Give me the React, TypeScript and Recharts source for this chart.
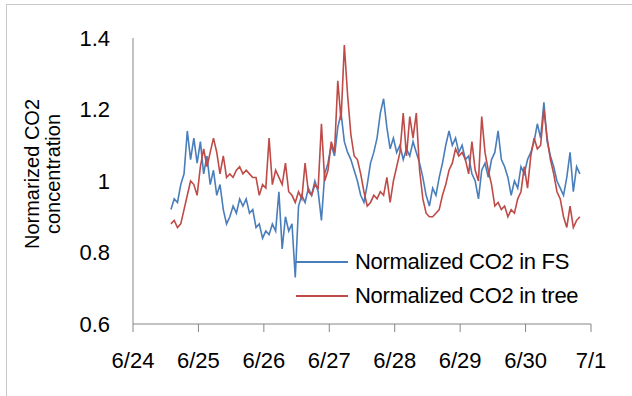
import { LineChart, Line, XAxis, YAxis } from "recharts";

// time axis: days after 6/24, one sample every STEP_DAY
const START_DAY = 0.58;
const STEP_DAY = 0.05;
const DAY_TICKS = [0, 1, 2, 3, 4, 5, 6, 7];
const DAY_LABELS = ["6/24", "6/25", "6/26", "6/27", "6/28", "6/29", "6/30", "7/1"];
const Y_TICKS = [0.6, 0.8, 1, 1.2, 1.4];

const CO2_FS = [
  0.92, 0.95, 0.94, 0.99, 1.02, 1.14, 1.06, 1.12, 1.05, 1.11,
  1.02, 1.07, 0.99, 1.03, 0.96, 0.99, 0.92, 0.88, 0.9, 0.93,
  0.91, 0.95, 0.93, 0.95, 0.91, 0.92, 0.87, 0.88, 0.84, 0.86,
  0.85, 0.88, 0.86, 0.97, 0.81, 0.9, 0.86, 0.88, 0.73, 0.93,
  0.96, 0.94, 0.98, 0.96, 1.0, 0.97, 0.89, 1.02, 1.05, 1.1,
  1.07, 1.15, 1.19, 1.11, 1.08, 1.06, 1.03, 1.0, 0.96, 0.94,
  0.99, 1.05, 1.08, 1.12, 1.19, 1.23, 1.15, 1.09, 1.12, 1.08,
  1.1, 1.06, 1.09, 1.07, 1.11, 1.08, 1.05, 1.01, 0.96, 0.93,
  0.98, 0.96, 1.01, 1.05, 1.1, 1.14, 1.1, 1.12, 1.08, 1.1,
  1.06, 1.07, 1.02, 1.0, 0.95, 1.03, 1.05, 1.01, 1.06, 1.08,
  1.14, 1.06, 1.04, 1.01, 0.96, 1.0, 0.98, 1.04, 1.02, 1.06,
  1.08, 1.11, 1.16, 1.12, 1.22, 1.11, 1.07, 1.04, 1.0, 0.98,
  0.96, 1.01, 1.08, 0.97, 1.04, 1.02,
];

const CO2_TREE = [
  0.88, 0.89, 0.87, 0.88, 0.92, 0.96, 1.0, 0.99, 0.96, 1.04,
  1.09, 1.04, 1.08, 1.12, 1.08, 1.02, 1.07, 1.01, 1.02, 1.01,
  1.03, 1.04, 1.02, 1.03, 1.02, 1.01, 1.01, 0.96, 0.99, 0.98,
  1.12, 0.99, 1.03, 1.01, 0.99, 1.05, 0.97, 0.96, 0.94, 0.97,
  0.95, 1.05, 0.97, 0.96, 0.99, 0.98, 1.16, 1.0, 1.03, 1.11,
  1.08, 1.28, 1.17, 1.38, 1.24, 1.13, 1.07, 1.06, 1.02, 0.97,
  0.93, 0.94, 0.96, 0.95, 0.97, 0.96, 1.01, 0.94, 1.0, 1.04,
  1.08, 1.19, 1.07, 1.18, 1.12, 1.19, 1.03, 0.95, 0.91, 0.9,
  0.9, 0.91, 0.92, 0.96, 0.99, 1.03, 1.05, 1.09, 1.07, 1.08,
  1.06, 1.02, 1.11, 1.03, 1.0, 1.18, 1.08, 1.03, 0.99, 0.93,
  0.94, 0.92, 0.93, 0.9, 0.92, 0.91, 0.95, 0.97, 1.04, 0.98,
  1.07, 1.12, 1.09, 1.1, 1.2, 1.12, 1.06, 1.02, 0.97, 0.95,
  0.9, 0.87, 0.93, 0.87, 0.89, 0.9,
];

const LEGEND_LABELS = ["Normalized CO2 in FS", "Normalized CO2 in tree"];

const BLUE = "#4A7EBB";
const RED = "#BE4B48";
const AXIS = "#868686";
const FONT = "'Liberation Sans', Arial, sans-serif";

const data = CO2_FS.map((fs, i) => ({
  t: +(START_DAY + i * STEP_DAY).toFixed(2),
  fs,
  tree: CO2_TREE[i],
}));

function LegendBox() {
  const colors = [BLUE, RED];
  return (
    <div style={{ position: "absolute", left: 296, top: 245, fontFamily: FONT, fontSize: 22, color: "#000" }}>
      {LEGEND_LABELS.map((label, i) => (
        <div key={label} style={{ display: "flex", alignItems: "center", height: 34, whiteSpace: "nowrap" }}>
          <span style={{ display: "inline-block", width: 52, height: 2, background: colors[i], marginRight: 7 }} />
          <span style={{ letterSpacing: -0.3 }}>{label}</span>
        </div>
      ))}
    </div>
  );
}

export default function App() {
  return (
    <div style={{ position: "absolute", left: 0, top: 0, width: 632, height: 396, overflow: "hidden", background: "#fff" }}>
      {/* outer frame, only top/left edges show */}
      <div style={{ position: "absolute", left: 6, top: 4, width: 700, height: 500, border: "1px solid #c8c8c8" }} />

      {/* y axis title */}
      <div
        style={{
          position: "absolute",
          left: 43 - 100,
          top: 174 - 21,
          width: 200,
          height: 42,
          lineHeight: "21px",
          textAlign: "center",
          fontFamily: FONT,
          fontSize: 20,
          transform: "rotate(-90deg)",
          color: "#000",
        }}
      >
        Normarized CO2
        <br />
        concentration
      </div>

      <LineChart
        width={632}
        height={396}
        data={data}
        margin={{ top: 38, right: 41, bottom: 42, left: 73 }}
        style={{ position: "absolute", left: 0, top: 0 }}
      >
        <XAxis
          dataKey="t"
          type="number"
          domain={[0, 7]}
          ticks={DAY_TICKS}
          tickFormatter={(v: number) => DAY_LABELS[v]}
          stroke={AXIS}
          tickSize={8}
          tickMargin={20}
          height={30}
          tick={{ fill: "#000", fontSize: 22, fontFamily: FONT }}
          interval={0}
        />
        <YAxis
          type="number"
          domain={[0.6, 1.4]}
          ticks={Y_TICKS}
          tickFormatter={(v: number) => String(v)}
          stroke={AXIS}
          tickLine={false}
          tickSize={8}
          tickMargin={15}
          width={60}
          tick={{ fill: "#000", fontSize: 22, fontFamily: FONT }}
          interval={0}
        />
        <Line type="linear" dataKey="fs" stroke={BLUE} strokeWidth={1.6} dot={false} isAnimationActive={false} />
        <Line type="linear" dataKey="tree" stroke={RED} strokeWidth={1.6} dot={false} isAnimationActive={false} />
      </LineChart>

      <LegendBox />
    </div>
  );
}
